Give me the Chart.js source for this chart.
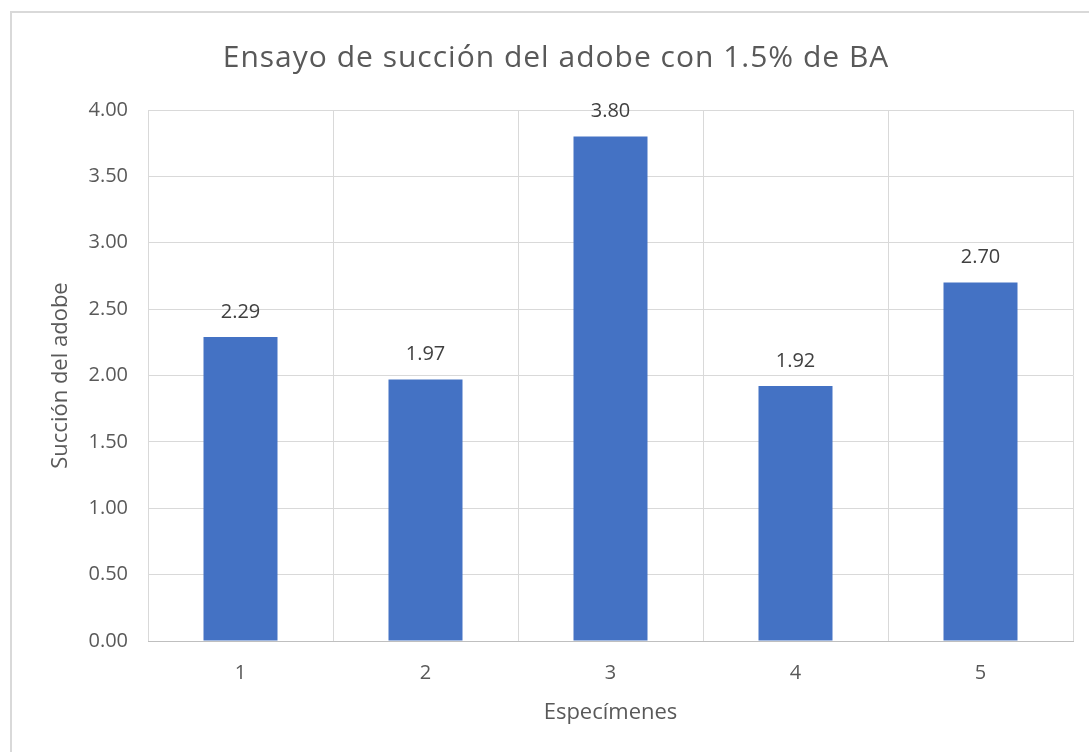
<!DOCTYPE html>
<html>
<head>
<meta charset="utf-8">
<script src="https://cdn.jsdelivr.net/npm/chart.js@4"></script>
<style>
  body { margin: 0; background: #fff; }
  #wrap { width: 1089px; height: 752px; position: relative; }
</style>
</head>
<body>
<div id="wrap"><canvas id="grafico"></canvas></div>
<script>
// datos
var especimenes = ["1", "2", "3", "4", "5"];
var succion = [2.29, 1.97, 3.80, 1.92, 2.70];
var titulo = "Ensayo de succión del adobe con 1.5% de BA";
var tituloY = "Succión del adobe";
var tituloX = "Especímenes";

var gris = "#595959";
var fuente = "'Open Sans', 'Noto Sans', sans-serif";

// fondo, borde exterior y titulo
var marco = {
    id: 'marco',
    beforeDraw: function(chart) {
        var ctx = chart.ctx;
        ctx.save();
        ctx.fillStyle = "#fff";
        ctx.fillRect(0, 0, chart.width, chart.height);
        ctx.strokeStyle = "#d9d9d9";
        ctx.lineWidth = 2;
        ctx.strokeRect(11, 12, chart.width + 20, chart.height + 20);
        ctx.font = "30px " + fuente;
        ctx.letterSpacing = "1px";
        ctx.fillStyle = gris;
        ctx.textAlign = "center";
        ctx.textBaseline = "middle";
        ctx.fillText(titulo, 556, 58);
        ctx.restore();
    }
};

// etiquetas de valores encima de las barras
var etiquetas = {
    id: 'etiquetas',
    afterDatasetsDraw: function(chart) {
        var ctx = chart.ctx;
        var meta = chart.getDatasetMeta(0);
        ctx.save();
        ctx.font = "20px " + fuente;
        ctx.fillStyle = "#404040";
        ctx.textAlign = "center";
        ctx.textBaseline = "middle";
        meta.data.forEach(function(barra, i) {
            ctx.fillText(succion[i].toFixed(2), barra.x, barra.y - 25);
        });
        ctx.restore();
    }
};

var grafico = new Chart(document.getElementById("grafico"), {
    type: 'bar',
    data: {
        labels: especimenes,
        datasets: [{
            data: succion,
            backgroundColor: "#4472C4",
            barPercentage: 0.4,
            categoryPercentage: 1.0
        }]
    },
    options: {
        responsive: true,
        maintainAspectRatio: false,
        animation: false,
        layout: { padding: { left: 10, right: 16, top: 110, bottom: 20 } },
        plugins: {
            legend: { display: false },
            tooltip: { enabled: false },
            title: { display: false }
        },
        scales: {
            x: {
                grid: { color: "#d9d9d9", drawTicks: false, offset: true },
                border: { color: "#bfbfbf" },
                ticks: { color: gris, font: { family: fuente, size: 20 }, padding: 20 },
                title: {
                    display: true, text: tituloX, color: gris,
                    font: { family: fuente, size: 22 },
                    padding: { bottom: 6 }
                },
                afterFit: function(scale) { scale.height = 91; }
            },
            y: {
                min: 0,
                max: 4,
                grid: { color: "#d9d9d9", drawTicks: false },
                border: { display: false },
                ticks: {
                    stepSize: 0.5,
                    color: gris,
                    font: { family: fuente, size: 20 },
                    padding: 20,
                    callback: function(v) { return v.toFixed(2); }
                },
                title: {
                    display: true, text: tituloY, color: gris,
                    font: { family: fuente, size: 22 },
                    padding: { top: 38 }
                },
                afterFit: function(scale) { scale.width = 138; }
            }
        }
    },
    plugins: [marco, etiquetas]
});
</script>
</body>
</html>
